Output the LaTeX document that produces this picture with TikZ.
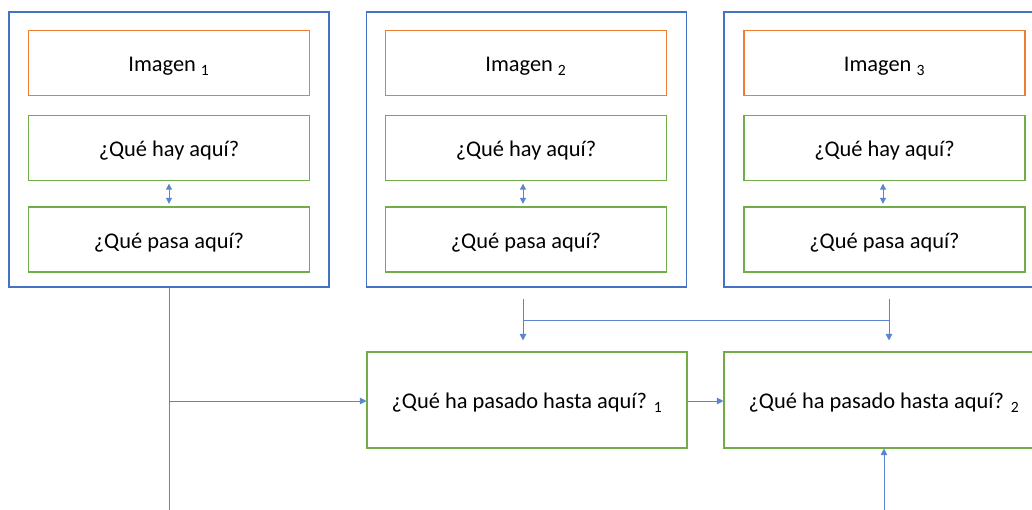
\documentclass[tikz,border=0pt]{standalone}
\usepackage{fontspec}
\setmainfont{Carlito}
\usetikzlibrary{arrows.meta,calc}
\definecolor{frameblue}{HTML}{4472C4}
\definecolor{linkblue}{HTML}{5B86CF}
\definecolor{imgorange}{HTML}{ED7D31}
\definecolor{askgreen}{HTML}{70AD47}
\tikzset{
  px/.style={x=0.75pt,y=-0.75pt},
  label/.style={font=\fontsize{16.8}{20}\selectfont,text height=15pt,text depth=2pt},
  framebox/.style={draw=frameblue,line width=0.8pt,minimum width=240pt,minimum height=206.25pt,inner sep=0pt},
  imgbox/.style={draw=imgorange,line width=0.8pt,minimum width=210.75pt,minimum height=48.75pt,inner sep=0pt,label},
  askbox/.style={draw=askgreen,line width=0.8pt,minimum width=210.75pt,minimum height=48.75pt,inner sep=0pt,label},
  sumbox/.style={draw=askgreen,line width=0.8pt,minimum width=240pt,minimum height=72pt,inner sep=0pt,label},
  link/.style={draw=linkblue,line width=0.75pt},
  tip/.style={-{Triangle[length=5pt,width=5pt]}},
  bitip/.style={{Triangle[length=4.5pt,width=4.5pt]}-{Triangle[length=4.5pt,width=4.5pt]}}
}
\begin{document}
\begin{tikzpicture}[px]
\useasboundingbox (0,0) rectangle (1032,510);
\clip (0,0) rectangle (1032,510);
% three image frames
\node[framebox] (o1) at (169,149.5) {};
\node[framebox] (o2) at (526.5,149.5) {};
\node[framebox] (o3) at (884,149.5) {};
% image, "what is here", "what happens here"
\node[imgbox] (i1) at (169,63) {Imagen \textsubscript{1}};
\node[imgbox] (i2) at (526,63) {Imagen \textsubscript{2}};
\node[imgbox] (i3) at (884.5,63) {Imagen \textsubscript{3}};
\node[askbox] (h1) at (169,148) {¿Qué hay aquí?};
\node[askbox] (h2) at (526,148) {¿Qué hay aquí?};
\node[askbox] (h3) at (884.5,148) {¿Qué hay aquí?};
\node[askbox] (p1) at (169,239.5) {¿Qué pasa aquí?};
\node[askbox] (p2) at (526,239.5) {¿Qué pasa aquí?};
\node[askbox] (p3) at (884.5,239.5) {¿Qué pasa aquí?};
% summaries
\node[sumbox] (s1) at (527,400) {¿Qué ha pasado hasta aquí? \textsubscript{1}};
\node[sumbox] (s2) at (884,400) {¿Qué ha pasado hasta aquí? \textsubscript{2}};
% two-way links inside each frame
\draw[link,bitip,shorten <=2pt,shorten >=2pt] (h1.south) -- (p1.north);
\draw[link,bitip,shorten <=2pt,shorten >=2pt] ($(h2.south)+(-3,0)$) -- ($(p2.north)+(-3,0)$);
\draw[link,bitip,shorten <=2pt,shorten >=2pt] ($(h3.south)+(-1.5,0)$) -- ($(p3.north)+(-1.5,0)$);
% bracket from frames 2 and 3 down to the summaries
\coordinate (b2top) at ($(o2.south)+(-3.5,11)$);
\coordinate (b3top) at ($(o3.south)+(5,11)$);
\coordinate (b2mid) at ($(o2.south)+(-3.5,33)$);
\coordinate (b3mid) at ($(o3.south)+(5,33)$);
\coordinate (b2end) at ($(s1.north)+(-4,-11)$);
\coordinate (b3end) at ($(s2.north)+(5,-11)$);
\draw[link,tip] (b2top) -- (b2end);
\draw[link,tip] (b3top) -- (b3end);
\draw[link] (b2mid) -- (b3mid);
% trunk from frame 1 and feeds into the summaries
\coordinate (trunkend) at (169,512);
\coordinate (feed) at (169,401);
\coordinate (lowstart) at (884,512);
\draw[link] (o1.south) -- (trunkend);
\draw[link,tip] (feed) -- (feed -| s1.west);
\draw[link,tip] (s1.east |- feed) -- (s2.west |- feed);
\draw[link,tip] (lowstart) -- (s2.south);
\end{tikzpicture}
\end{document}
